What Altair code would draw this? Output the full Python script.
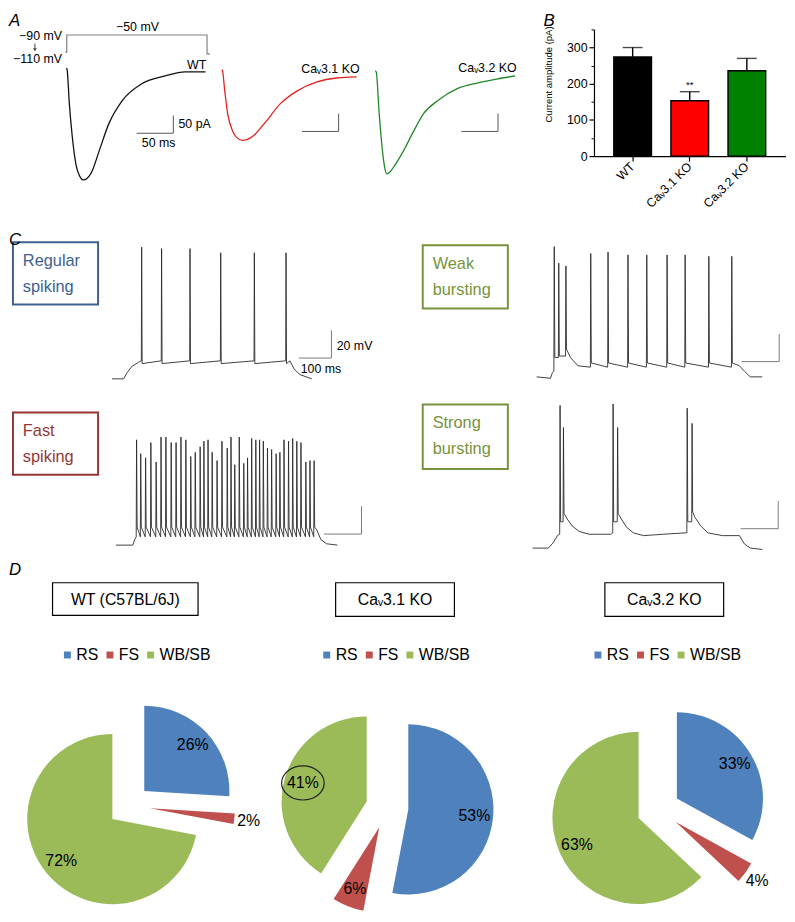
import math
import pandas as pd
import altair as alt

FONT = "Liberation Sans"
W, H = 787, 906
CAV1 = "Ca\u1d653.1 KO"
CAV2 = "Ca\u1d653.2 KO"

# ---------------- Panel A : T-type current traces (ms, pA) ----------------
prot_t = [-1.5, 0.5, 0.5, 192, 192, 196]
prot_v = [-110, -110, -50, -50, -116, -116]

wt_t = [0, 1, 4, 8, 13.5, 18, 23, 28, 34, 45, 58, 76, 103, 135, 162, 190]
wt_i = [0, -5, -100, -192, -275, -303, -314, -310, -294, -231, -156, -92, -44, -22, -11, -11]
ko1_t = [0, 1, 4, 8, 15, 21, 28, 35, 42, 58, 80, 103, 130, 157, 184]
ko1_i = [-5, -8, -64, -128, -178, -196, -203, -200, -192, -156, -100, -64, -39, -28, -25]
ko2_t = [0, 1.4, 5.4, 9.5, 13, 16, 20, 26, 39, 53, 66, 85, 112, 139, 166, 191]
ko2_i = [-8, -11, -128, -225, -280, -297, -292, -275, -231, -175, -128, -92, -58, -42, -31, -22]

# ---------------- Panel B : current amplitude ----------------
b_cats = ["WT", CAV1, CAV2]
b_vals = [274, 153, 236]
b_errs = [26, 25, 34]
b_fill = ["#000000", "#ff0000", "#007f00"]

# ---------------- Panel C : firing patterns (ms, mV) ----------------
rs_base_t = [0, 36, 45, 61, 82, 89, 545, 558, 576, 612]
rs_base_v = [-70, -70, -66, -61, -58, -57, -57, -63, -67, -70]
rs_spk_t = [91, 152, 239, 333, 436, 533]
rs_spk_v = [25, 24, 24, 21, 21, 21]
rs_pre, rs_post = -57, -59

wb_base_t = [0, 37, 42, 90, 110, 539, 553, 568, 600]
wb_base_v = [-70, -71, -67, -56, -62, -62, -66, -70, -70]
wb_spk_t = [47, 59, 78, 144, 190, 243, 293, 347, 395, 458, 519]
wb_spk_v = [24, 12, 10, 19, 20, 18, 18, 18, 18, 17, 17]
wb_pre = [-66, -56, -55, -63, -63, -63, -63, -63, -63, -63, -63]
wb_post = [-56, -55, -50, -60, -60, -60, -60, -60, -60, -60, -60]

fs_base_t = [0, 45, 50, 534, 545, 560, 589]
fs_base_v = [-70, -70, -66, -59, -66, -69, -70]
fs_spk_t = [55, 66, 79, 93, 107, 120, 133, 147, 160, 173, 186, 199, 211, 224, 234, 245,
            256, 269, 282, 296, 306, 316, 328, 340, 350, 361, 372, 382, 392, 403, 414,
            426, 436, 447, 459, 470, 481, 492, 505, 516, 527]
fs_spk_v = [6, -4, -7, 4, -10, 8, 8, 4, 4, 8, 6, -6, -3, 1, 5, 6,
            -3, -9, 5, 0, 8, -12, 8, -11, -7, 7, 6, 6, 5, 0, -1,
            -4, -3, 6, 5, 7, 5, 4, -10, -9, -9]
fs_pre, fs_post = -64, -57

sb_base_t = [0, 42, 55, 66, 92, 105, 124, 150, 208, 236, 250, 268, 295, 347, 405,
             432, 447, 466, 505, 550, 563, 579, 611]
sb_base_v = [-70, -70, -66, -61, -49, -54, -58, -60, -60, -49, -55, -59, -61, -60, -59,
             -48, -54, -59, -61, -61, -67, -70, -71]
sb_spk_t = [73, 82, 214, 226, 411, 424]
sb_spk_v = [33, 17, 34, 17, 31, 20]
sb_pre = [-60, -51, -59, -51, -59, -51]
sb_post = [-51, -45, -51, -45, -51, -44]

# ---------------- Panel D : cell-type proportions (%) ----------------
pie_cats = ["RS", "FS", "WB/SB"]
pie_colors = ["#4f81bd", "#c0504d", "#9bbb59"]
wt_pct = [26, 2, 72]
ko1_pct = [53, 6, 41]
ko2_pct = [33, 4, 63]
explode = 0.25


def S(d0, d1, p0, p1):
    """scale whose domain [d0, d1] is drawn from page pixel p0 to p1"""
    return alt.Scale(domain=[d0, d1], range=[p0 - 8, p1 - 8], nice=False, zero=False)


def line(df, xs, ys, color, width=1.0, interp="linear", xf="t", yf="v"):
    return alt.Chart(df).mark_line(color=color, strokeWidth=width, interpolate=interp).encode(
        x=alt.X(f"{xf}:Q", scale=xs, axis=None),
        y=alt.Y(f"{yf}:Q", scale=ys, axis=None),
        order=alt.Order("i:Q"),
    )


def text(df, xs, ys, size=12, align="left", color="black", baseline="middle", **kw):
    return alt.Chart(df).mark_text(font=FONT, fontSize=size, align=align, baseline=baseline,
                                   color=color, **kw).encode(
        x=alt.X("t:Q", scale=xs, axis=None),
        y=alt.Y("v:Q", scale=ys, axis=None),
        text="s:N",
    )


def seq(ts, vs):
    return pd.DataFrame({"t": ts, "v": vs, "i": list(range(len(ts)))})


def bar3(t1, t2, v1, v2):
    return seq([t1, t2, t2], [v1, v1, v2])


def spikes(bt, bv, st, sv, pre, post):
    pts = list(zip(bt, bv))
    for k, (ts, pk) in enumerate(zip(st, sv)):
        p = pre[k] if isinstance(pre, list) else pre
        q = post[k] if isinstance(post, list) else post
        pts += [(ts - 1, p), (ts, pk), (ts + 1.5, q)]
    pts.sort()
    return seq([a for a, _ in pts], [b for _, b in pts])


layers = []

# ---- Panel A ----
XP = S(-70, 200, 15.2, 215)
YP = S(-140, -10, 56.7, 19)
layers.append(line(seq(prot_t, prot_v), XP, YP, "#808080", 1.2))
layers.append(text(pd.DataFrame({"t": [97], "v": [-23], "s": ["\u221250 mV"]}), XP, YP, 12.5, "center"))
layers.append(text(pd.DataFrame({"t": [-6, -6], "v": [-55, -134], "s": ["\u221290 mV", "\u2212110 mV"]}),
                   XP, YP, 12.5, "right"))
layers.append(alt.Chart(pd.DataFrame({"t": [-43], "v": [-80], "v2": [-100]})).mark_rule(
    color="#444", strokeWidth=1).encode(
    x=alt.X("t:Q", scale=XP, axis=None), y=alt.Y("v:Q", scale=YP, axis=None), y2="v2:Q"))
layers.append(alt.Chart(pd.DataFrame({"t": [-43], "v": [-102]})).mark_point(
    shape="triangle-down", filled=True, size=14, color="#444", opacity=1).encode(
    x=alt.X("t:Q", scale=XP, axis=None), y=alt.Y("v:Q", scale=YP, axis=None)))

YA = S(-340, 20, 186.4, 56.8)
traces_a = [
    (67, wt_t, wt_i, "#111111", (96, 146, -183, -133), "WT", 191, 8),
    (224, ko1_t, ko1_i, "#e3211c", (109.5, 159.5, -178, -128), CAV1, 188, -3),
    (379, ko2_t, ko2_i, "#23872a", (117.6, 167.6, -178, -128), CAV2, 193, 0),
]
for x0, tt, ii, col, sb, lab, lt, lv in traces_a:
    XA = S(0, 200, x0, x0 + 148)
    layers.append(line(seq(tt, ii), XA, YA, col, 1.3, "monotone"))
    layers.append(line(bar3(*sb), XA, YA, "#555555", 1.0))
    layers.append(text(pd.DataFrame({"t": [lt], "v": [lv], "s": [lab]}), XA, YA, 12.5, "right"))
XA0 = S(0, 200, 67, 215)
layers.append(text(pd.DataFrame({"t": [153], "v": [-158], "s": ["50 pA"]}), XA0, YA, 12.5, "left"))
layers.append(text(pd.DataFrame({"t": [126], "v": [-211], "s": ["50 ms"]}), XA0, YA, 12.5, "center"))

# ---- Panel B ----
b_df = pd.DataFrame({"g": b_cats, "val": b_vals, "err": b_errs, "fill": b_fill})
b_df["top"] = b_df["val"] + b_df["err"]
BXS = alt.Scale(domain=b_cats, range=[592, 785.5], paddingInner=0.34, paddingOuter=0.347)
BYS = alt.Scale(domain=[0, 350], range=[145, 17], nice=False, zero=True)
bx_axis = alt.Axis(orient="bottom", offset=-(H - 145), labelAngle=315, labelAlign="right",
                   labelBaseline="middle", labelFont=FONT, labelFontSize=12.5, labelColor="black",
                   tickColor="black", domainColor="black", tickSize=5, labelPadding=3,
                   domainWidth=1.2, tickWidth=1.2, title=None)
by_axis = alt.Axis(orient="left", offset=-592, values=[0, 100, 200, 300], labelFont=FONT,
                   labelFontSize=12.5, labelColor="black", tickColor="black", domainColor="black",
                   tickSize=5, domainWidth=1.2, tickWidth=1.2, labelPadding=2,
                   title="Current amplitude (pA)", titleFont=FONT, titleFontSize=9.6,
                   titleFontWeight="normal", titleColor="black", titleX=-46, titleY=62,
                   titleAngle=270, titleAlign="center", titleBaseline="middle")
layers.append(alt.Chart(b_df).mark_rule(color="black", strokeWidth=1.4).encode(
    x=alt.X("g:N", sort=b_cats, scale=BXS, axis=None),
    y=alt.Y("val:Q", scale=BYS, axis=None), y2="top:Q"))
layers.append(alt.Chart(b_df).mark_tick(color="black", thickness=1.4, size=20).encode(
    x=alt.X("g:N", sort=b_cats, scale=BXS, axis=None),
    y=alt.Y("top:Q", scale=BYS, axis=None)))
layers.append(alt.Chart(b_df).mark_bar(stroke="black", strokeWidth=1.4).encode(
    x=alt.X("g:N", sort=b_cats, scale=BXS, axis=bx_axis),
    y=alt.Y("val:Q", scale=BYS, axis=by_axis),
    color=alt.Color("fill:N", scale=None)))
layers.append(alt.Chart(b_df).mark_point(opacity=0).encode(
    y=alt.Y("val:Q", scale=BYS, title=None,
            axis=alt.Axis(orient="left", offset=-592, values=[50, 150, 250, 350], labels=False,
                          domain=False, tickSize=3, tickColor="black", tickWidth=1))))
layers.append(alt.Chart(pd.DataFrame({"g": [CAV1], "y": [196], "s": ["**"]})).mark_text(
    font=FONT, fontSize=10, baseline="middle", color="black").encode(
    x=alt.X("g:N", sort=b_cats, scale=BXS, axis=None),
    y=alt.Y("y:Q", scale=BYS, axis=None), text="s:N"))

# ---- Panel C ----
traces_c = [
    (113, 0.33, 378, spikes(rs_base_t, rs_base_v, rs_spk_t, rs_spk_v, rs_pre, rs_post), (572, 672, -55, -35)),
    (542, 0.38, 376, spikes(wb_base_t, wb_base_v, wb_spk_t, wb_spk_v, wb_pre, wb_post), (545, 645, -59, -39)),
    (117, 0.38, 546, spikes(fs_base_t, fs_base_v, fs_spk_t, fs_spk_v, fs_pre, fs_post), (553, 653, -62, -42)),
    (538, 0.38, 549, spikes(sb_base_t, sb_base_v, sb_spk_t, sb_spk_v, sb_pre, sb_post), (553, 653, -56, -36)),
]
for k, (x0, kx, y0, df, sb) in enumerate(traces_c):
    XC = S(0, 720, x0, x0 + 720 * kx)
    YC = S(-80, 40, y0 + 14, y0 - 154)
    layers.append(line(df, XC, YC, "#2b2b2b", 0.9))
    layers.append(line(bar3(*sb), XC, YC, "#7a7a7a", 1.0))
    if k == 0:
        layers.append(text(pd.DataFrame({"t": [688, 578], "v": [-46, -63], "s": ["20 mV", "100 ms"]}),
                           XC, YC, 12.5, "left"))

# ---- Panel D ----
pie_layout = [("WT", wt_pct, 130, 809, 86, 52), ("KO1", ko1_pct, 391, 811, 86, 314),
              ("KO2", ko2_pct, 665, 813, 87, 588)]
for g, pct, cx, cy, r, lgx in pie_layout:
    rows = []
    acc = 0
    for c, p in zip(pie_cats, pct):
        mid = 2 * math.pi * (acc + p / 2) / 100
        f = explode + (1.17 if p < 5 else 0.78)
        rows.append({"cat": c, "pct": p, "start": acc, "end": acc + p,
                     "ex": explode * math.sin(mid), "ey": explode * math.cos(mid),
                     "lx": f * math.sin(mid), "ly": f * math.cos(mid), "s": f"{p}%",
                     "circ": (g == "KO1" and c == "WB/SB")})
        acc += p
    pdf = pd.DataFrame(rows)
    XD = S(-1, 1, cx - r, cx + r)
    YD = S(-1, 1, cy + r, cy - r)
    layers.append(alt.Chart(pdf).mark_arc(radius=r).encode(
        x=alt.X("ex:Q", scale=XD, axis=None),
        y=alt.Y("ey:Q", scale=YD, axis=None),
        theta=alt.Theta("start:Q", stack=False, scale=alt.Scale(domain=[0, 100], range=[0, 2 * math.pi])),
        theta2="end:Q",
        color=alt.Color("cat:N", scale=alt.Scale(domain=pie_cats, range=pie_colors),
                        legend=alt.Legend(orient="none", legendX=lgx, legendY=641, direction="horizontal",
                                          title=None, symbolType="square", symbolSize=49,
                                          symbolStrokeWidth=0, labelFont=FONT, labelFontSize=16,
                                          labelColor="black", labelOffset=1, columnPadding=3,
                                          padding=0)),
    ))
    layers.append(alt.Chart(pdf).mark_text(font=FONT, fontSize=16, color="black").encode(
        x=alt.X("lx:Q", scale=XD, axis=None), y=alt.Y("ly:Q", scale=YD, axis=None), text="s:N"))
    cdf = pdf[pdf["circ"]]
    if len(cdf):
        layers.append(alt.Chart(cdf).mark_point(
            shape="M -1,0 A 1,0.8 0 1,0 1,0 A 1,0.8 0 1,0 -1,0 Z", size=1849, filled=False,
            stroke="#222", strokeWidth=1.2, opacity=1).encode(
            x=alt.X("lx:Q", scale=XD, axis=None), y=alt.Y("ly:Q", scale=YD, axis=None)))

# ---- page furniture (page pixel coordinates) ----
CX = alt.Scale(domain=[8, 8 + W], range=[0, W], nice=False, zero=False)
CY = alt.Scale(domain=[8, 8 + H], range=[0, H], nice=False, zero=False)
box_x0 = [13, 427, 13, 427, 53, 339, 611]
box_y0 = [240, 243, 412, 404, 584, 584, 584]
box_x1 = [99, 513, 99, 513, 200, 459, 731]
box_y1 = [303, 307, 475, 469, 617, 618, 618]
box_col = ["#3e6190", "#77933c", "#953735", "#77933c", "#000000", "#000000", "#000000"]
box_w = [2, 2, 2, 2, 1.2, 1.2, 1.2]
boxes = pd.DataFrame({"x0": box_x0, "y0": box_y0, "x1": box_x1, "y1": box_y1, "c": box_col, "w": box_w})
for w in [2, 1.2]:
    layers.append(alt.Chart(boxes[boxes["w"] == w]).mark_rect(fillOpacity=0, strokeWidth=w).encode(
        x=alt.X("x0:Q", scale=CX, axis=None), x2="x1:Q",
        y=alt.Y("y0:Q", scale=CY, axis=None), y2="y1:Q",
        stroke=alt.Color("c:N", scale=None)))

c_words = ["Regular", "spiking", "Weak", "bursting", "Fast", "spiking", "Strong", "bursting"]
c_cols = ["#3e6190", "#3e6190", "#77933c", "#77933c", "#953735", "#953735", "#77933c", "#77933c"]
c_box = [0, 0, 1, 1, 2, 2, 3, 3]
c_line = [0, 1, 0, 1, 0, 1, 0, 1]
cw = pd.DataFrame({"s": c_words, "c": c_cols,
                   "x": [box_x0[b] + 10 for b in c_box],
                   "y": [box_y0[b] + 19 + 26 * l for b, l in zip(c_box, c_line)]})
layers.append(alt.Chart(cw).mark_text(font=FONT, fontSize=16.5, align="left", baseline="middle").encode(
    x=alt.X("x:Q", scale=CX, axis=None), y=alt.Y("y:Q", scale=CY, axis=None), text="s:N",
    color=alt.Color("c:N", scale=None)))

d_titles = ["WT (C57BL/6J)", CAV1, CAV2]
dt = pd.DataFrame({"s": d_titles,
                   "x": [(box_x0[k] + box_x1[k]) / 2 for k in (4, 5, 6)],
                   "y": [(box_y0[k] + box_y1[k]) / 2 + 0.5 for k in (4, 5, 6)]})
layers.append(alt.Chart(dt).mark_text(font=FONT, fontSize=16, baseline="middle", color="black").encode(
    x=alt.X("x:Q", scale=CX, axis=None), y=alt.Y("y:Q", scale=CY, axis=None), text="s:N"))

letters = pd.DataFrame({"s": ["A", "B", "C", "D"], "x": [9, 549, 9, 9], "y": [17, 17, 238, 571]})
layers.append(alt.Chart(letters).mark_text(font=FONT, fontSize=17, fontStyle="italic", align="left",
                                           baseline="middle", color="black").encode(
    x=alt.X("x:Q", scale=CX, axis=None), y=alt.Y("y:Q", scale=CY, axis=None), text="s:N"))

chart = alt.layer(*layers).resolve_scale(
    x="independent", y="independent", theta="independent", color="independent", stroke="independent"
).properties(width=W, height=H, padding=0, background="white",
             autosize=alt.AutoSizeParams(type="none")).configure_view(stroke=None)

chart.save("out.html", embed_options={"renderer": "svg", "actions": False})
